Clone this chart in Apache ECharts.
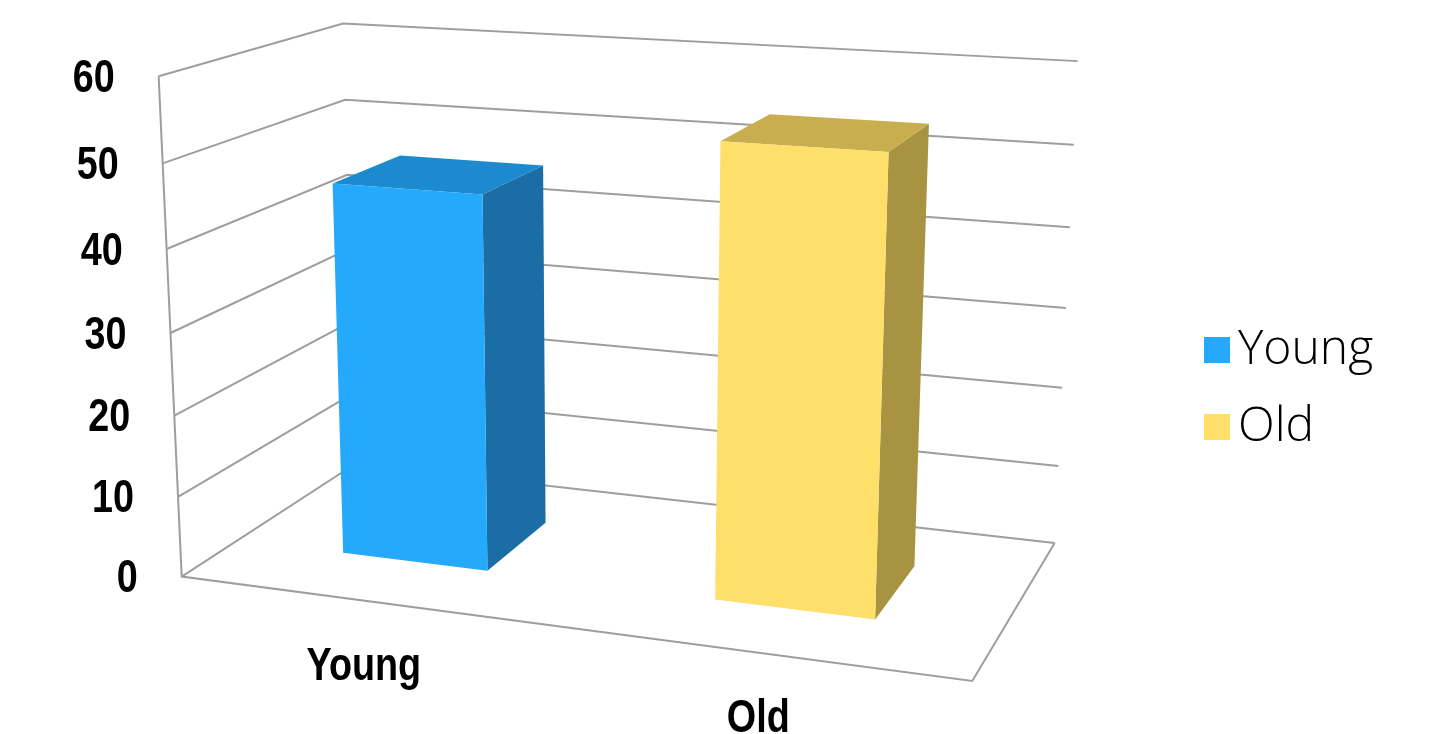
<!DOCTYPE html>
<html>
<head>
<meta charset="utf-8">
<script src="https://cdn.jsdelivr.net/npm/echarts@6/dist/echarts.min.js"></script>
<style>
  html, body { margin: 0; padding: 0; background: #fff; }
  #chart { width: 1453px; height: 734px; }
</style>
</head>
<body>
<div id="chart"></div>
<script>
// ---------------- data ----------------
const categories = ['Young', 'Old'];
const values = [46, 54];
const seriesNames = ['Young', 'Old'];
const yTicks = [0, 10, 20, 30, 40, 50, 60];
const yMin = 0, yMax = 60, yInterval = 10;

// ---------------- style / layout ----------------
const FRONT_COLORS = ['#24A9FD', '#FEDF6A'];
const TOP_COLORS = ['#1D89CE', '#C9AE50'];
const SIDE_COLORS = ['#1A6DA5', '#A89342'];
const GRID_COLOR = '#9e9e9e';
const AXIS_FONT = "'Liberation Sans', Arial, sans-serif";
const AXIS_NARROW = 0.82;     // horizontal squeeze to mimic a narrow face
const LEGEND_FONT = "'Open Sans', 'DejaVu Sans', sans-serif";
const BAR_WIDTH_RATIO = 0.4;   // bar width relative to category band
const BAR_DEPTH = [0.3, 0.7];  // bar depth range inside the floor (0 = front, 1 = back)

// Frame anchors of the 3-D box: [X(0..1), Y(0..1), Z(0..1), px, py]
const FRAME_ANCHORS = [
  [0, 0, 0, 181, 577], [0, 1/6, 0, 179, 496], [0, 2/6, 0, 175, 415],
  [0, 3/6, 0, 170, 333], [0, 4/6, 0, 167, 249], [0, 5/6, 0, 163, 163],
  [0, 1, 0, 157.7, 76.7],
  [0, 1, 1, 343, 24], [0, 5/6, 1, 345, 99], [0, 0, 1, 355, 465],
  [1, 1, 1, 1078, 62], [1, 5/6, 1, 1073, 145], [1, 4/6, 1, 1070, 227],
  [1, 3/6, 1, 1066.7, 307.7], [1, 2/6, 1, 1062.7, 387.3], [1, 1/6, 1, 1058, 465],
  [1, 0, 1, 1054, 543],
  [1, 0, 0, 972, 682]
];

// ---------------- perspective camera (DLT least squares) ----------------
function fitCamera(anchors) {
  const n = 11;
  const M = Array.from({ length: n }, () => new Array(n + 1).fill(0));
  anchors.forEach(([X, Y, Z, u, v]) => {
    const rows = [
      [[X, Y, Z, 1, 0, 0, 0, 0, -u * X, -u * Y, -u * Z], u],
      [[0, 0, 0, 0, X, Y, Z, 1, -v * X, -v * Y, -v * Z], v]
    ];
    rows.forEach(([r, b]) => {
      for (let i = 0; i < n; i++) {
        for (let j = 0; j < n; j++) M[i][j] += r[i] * r[j];
        M[i][n] += r[i] * b;
      }
    });
  });
  for (let c = 0; c < n; c++) {
    let p = c;
    for (let r = c + 1; r < n; r++) if (Math.abs(M[r][c]) > Math.abs(M[p][c])) p = r;
    [M[c], M[p]] = [M[p], M[c]];
    for (let r = 0; r < n; r++) {
      if (r === c) continue;
      const f = M[r][c] / M[c][c];
      for (let k = c; k <= n; k++) M[r][k] -= f * M[c][k];
    }
  }
  return M.map((row, i) => row[n] / row[i]);
}
const CAM = fitCamera(FRAME_ANCHORS);
function P(X, Y, Z) {
  const w = CAM[8] * X + CAM[9] * Y + CAM[10] * Z + 1;
  return [
    (CAM[0] * X + CAM[1] * Y + CAM[2] * Z + CAM[3]) / w,
    (CAM[4] * X + CAM[5] * Y + CAM[6] * Z + CAM[7]) / w
  ];
}

// normalise a grid point (library scales) into 0..1 box coordinates
function norm(cs, pt) {
  return [(pt[0] - cs.x) / cs.width, (cs.y + cs.height - pt[1]) / cs.height];
}

function axisText(text, x, y, align) {
  return {
    type: 'text', x: x, y: y, scaleX: AXIS_NARROW,
    style: {
      text: text, x: 0, y: 0, align: align, verticalAlign: 'middle',
      fontFamily: AXIS_FONT, fontWeight: 'bold', fontSize: 46, fill: '#000'
    }
  };
}

function renderTick(params, api) {
  const cs = params.coordSys;
  const y = norm(cs, api.coord([0, api.value(1)]))[1];
  const a = P(0, y, 0), b = P(0, y, 1), c = P(1, y, 1);
  return {
    type: 'group',
    children: [
      { type: 'polyline', shape: { points: [a, b, c] },
        style: { stroke: GRID_COLOR, lineWidth: 2, fill: null } },
      axisText(String(api.value(1)), a[0] - 44, a[1] + 3, 'right')
    ]
  };
}

function renderFrame(params, api) {
  const cs = params.coordSys;
  const y0 = norm(cs, api.coord([0, yMin]))[1];
  const y1 = norm(cs, api.coord([0, yMax]))[1];
  return {
    type: 'group',
    children: [
      { type: 'polyline', shape: { points: [P(0, y1, 0), P(0, y0, 0), P(1, y0, 0), P(1, y0, 1)] },
        style: { stroke: GRID_COLOR, lineWidth: 2, fill: null } }
    ]
  };
}

function renderBar(params, api) {
  const cs = params.coordSys;
  const cat = api.value(0);
  const top = norm(cs, api.coord([cat, api.value(1)]));
  const bot = norm(cs, api.coord([cat, yMin]));
  const halfW = BAR_WIDTH_RATIO * api.size([1, 0])[0] / 2 / cs.width;
  const xc = top[0], x0 = xc - halfW, x1 = xc + halfW;
  const yt = top[1], yb = bot[1];
  const z0 = BAR_DEPTH[0], z1 = BAR_DEPTH[1];
  const lab = P(xc, yb, 0);
  return {
    type: 'group',
    children: [
      { type: 'polygon', shape: { points: [P(x1, yb, z0), P(x1, yb, z1), P(x1, yt, z1), P(x1, yt, z0)] },
        style: { fill: SIDE_COLORS[cat] } },
      { type: 'polygon', shape: { points: [P(x0, yt, z0), P(x1, yt, z0), P(x1, yt, z1), P(x0, yt, z1)] },
        style: { fill: TOP_COLORS[cat] } },
      { type: 'polygon', shape: { points: [P(x0, yb, z0), P(x1, yb, z0), P(x1, yt, z0), P(x0, yt, z0)] },
        style: { fill: FRONT_COLORS[cat] } },
      axisText(categories[cat], lab[0], lab[1] + 67, 'center')
    ]
  };
}

const chart = echarts.init(document.getElementById('chart'), null, { renderer: 'canvas' });
const series = [
  { name: 'frame', type: 'custom', z: 1, coordinateSystem: 'cartesian2d',
    renderItem: renderFrame, data: [[0, 0]], silent: true },
  { name: 'ticks', type: 'custom', z: 1, coordinateSystem: 'cartesian2d',
    renderItem: renderTick, data: yTicks.map(t => [0, t]), silent: true }
];
seriesNames.forEach((name, i) => {
  series.push({
    name: name, type: 'custom', z: 2, coordinateSystem: 'cartesian2d',
    renderItem: renderBar, itemStyle: { color: FRONT_COLORS[i] },
    data: [[i, values[i]]]
  });
});

chart.setOption({
  animation: false,
  backgroundColor: '#fff',
  grid: { left: 0, right: 0, top: 0, bottom: 0 },
  xAxis: { type: 'category', data: categories, show: false },
  yAxis: { type: 'value', min: yMin, max: yMax, interval: yInterval, show: false },
  legend: {
    data: seriesNames, orient: 'vertical', left: 1199, top: 321,
    itemWidth: 26, itemHeight: 26, itemGap: 29, icon: 'rect',
    textStyle: { fontFamily: LEGEND_FONT, fontSize: 48, fontWeight: 300, color: '#000',
                 padding: [0, 0, 0, 3] }
  },
  series: series
});
</script>
</body>
</html>
